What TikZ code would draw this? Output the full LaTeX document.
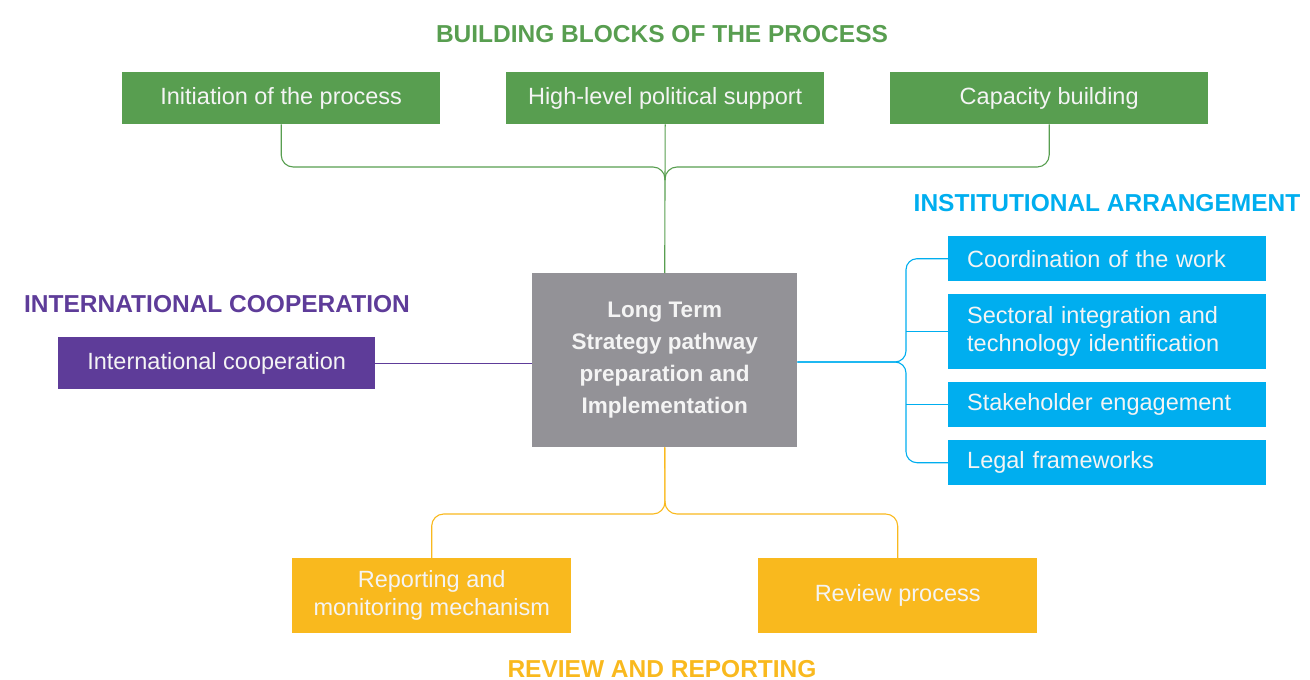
\documentclass[tikz,border=0pt]{standalone}
\usepackage{fontspec}
\setmainfont{Liberation Sans}
\usetikzlibrary{calc}
\definecolor{cgreen}{HTML}{589E50}
\definecolor{cblue}{HTML}{00AEEF}
\definecolor{cpurple}{HTML}{5E3C99}
\definecolor{cyellow}{HTML}{F9B91E}
\definecolor{cgray}{HTML}{939297}
\definecolor{boxtext}{HTML}{F4F4F4}
\begin{document}
\begin{tikzpicture}[x=1pt,y=-1pt,
  box/.style={fill=#1, text=boxtext, inner sep=0pt, anchor=north west,
    font=\fontsize{23.5}{28}\selectfont, align=center},
  heading/.style={text=#1, font=\fontsize{24.5}{28}\selectfont\bfseries},
  link/.style={draw=#1, line width=1.1pt, rounded corners=12pt}]
\useasboundingbox (0,0) rectangle (1310,680);

% headings
\node[heading=cgreen] (hbb) at (662,34) {BUILDING BLOCKS OF THE PROCESS};
\node[heading=cblue] (hia) at (1107,203) {INSTITUTIONAL ARRANGEMENT};
\node[heading=cpurple] (hic) at (217,304) {INTERNATIONAL COOPERATION};
\node[heading=cyellow] (hrr) at (662,669) {REVIEW AND REPORTING};

% central box
\node[box=cgray, minimum width=265pt, minimum height=174pt,
  font=\fontsize{22.5}{32}\selectfont\bfseries] (lts) at (532,273)
  {Long Term\\Strategy pathway\\preparation and\\Implementation};

% building blocks
\node[box=cgreen, minimum width=318pt, minimum height=52pt] (init) at (122,72) {Initiation of the process};
\node[box=cgreen, minimum width=318pt, minimum height=52pt] (hlps) at (506,72) {High-level political support};
\node[box=cgreen, minimum width=318pt, minimum height=52pt] (cap) at (890,72) {Capacity building};

% institutional arrangement
\node[box=cblue, minimum width=318pt, minimum height=45pt, text width=280pt, align=left, inner xsep=19pt] (coord) at (948,236) {Coordination of the work};
\node[box=cblue, minimum width=318pt, minimum height=75pt, text width=280pt, align=left, inner xsep=19pt] (sect) at (948,294) {Sectoral integration and\\technology identification};
\node[box=cblue, minimum width=318pt, minimum height=45pt, text width=280pt, align=left, inner xsep=19pt] (stake) at (948,382) {Stakeholder engagement};
\node[box=cblue, minimum width=318pt, minimum height=45pt, text width=280pt, align=left, inner xsep=19pt] (legal) at (948,440) {Legal frameworks};

% international cooperation
\node[box=cpurple, minimum width=317pt, minimum height=52pt] (intl) at (58,337) {International cooperation};

% review and reporting
\node[box=cyellow, minimum width=279pt, minimum height=75pt] (rep) at (292,558) {Reporting and\\monitoring mechanism};
\node[box=cyellow, minimum width=279pt, minimum height=75pt] (rev) at (758,558) {Review process};

% green connectors
\coordinate (gh) at (665,167);
\coordinate (gj) at (665,180);
\draw[link=cgreen] (hlps.south) -- (lts.north);
\draw[link=cgreen] (init.south) -- (init.south |- gh) -- (gh) -- (gj);
\draw[link=cgreen] (cap.south) -- (cap.south |- gh) -- (gh) -- (gj);

% blue connectors
\coordinate (bx) at (906,362);
\draw[link=cblue, rounded corners=11pt] (lts.east |- bx) -- (bx) -- (bx |- coord.west) -- (coord.west);
\draw[link=cblue, rounded corners=11pt] (lts.east |- bx) -- (bx) -- (bx |- legal.west) -- (legal.west);
\draw[link=cblue] (bx |- sect.west) -- (sect.west);
\draw[link=cblue] (bx |- stake.west) -- (stake.west);

% purple connector
\draw[link=cpurple] (intl.east) -- (intl.east -| lts.west);

% yellow connectors
\coordinate (yh) at (665,514);
\draw[link=cyellow] (lts.south) -- (yh) -- (yh -| rep.north) -- (rep.north);
\draw[link=cyellow] (lts.south) -- (yh) -- (yh -| rev.north) -- (rev.north);
\end{tikzpicture}
\end{document}
